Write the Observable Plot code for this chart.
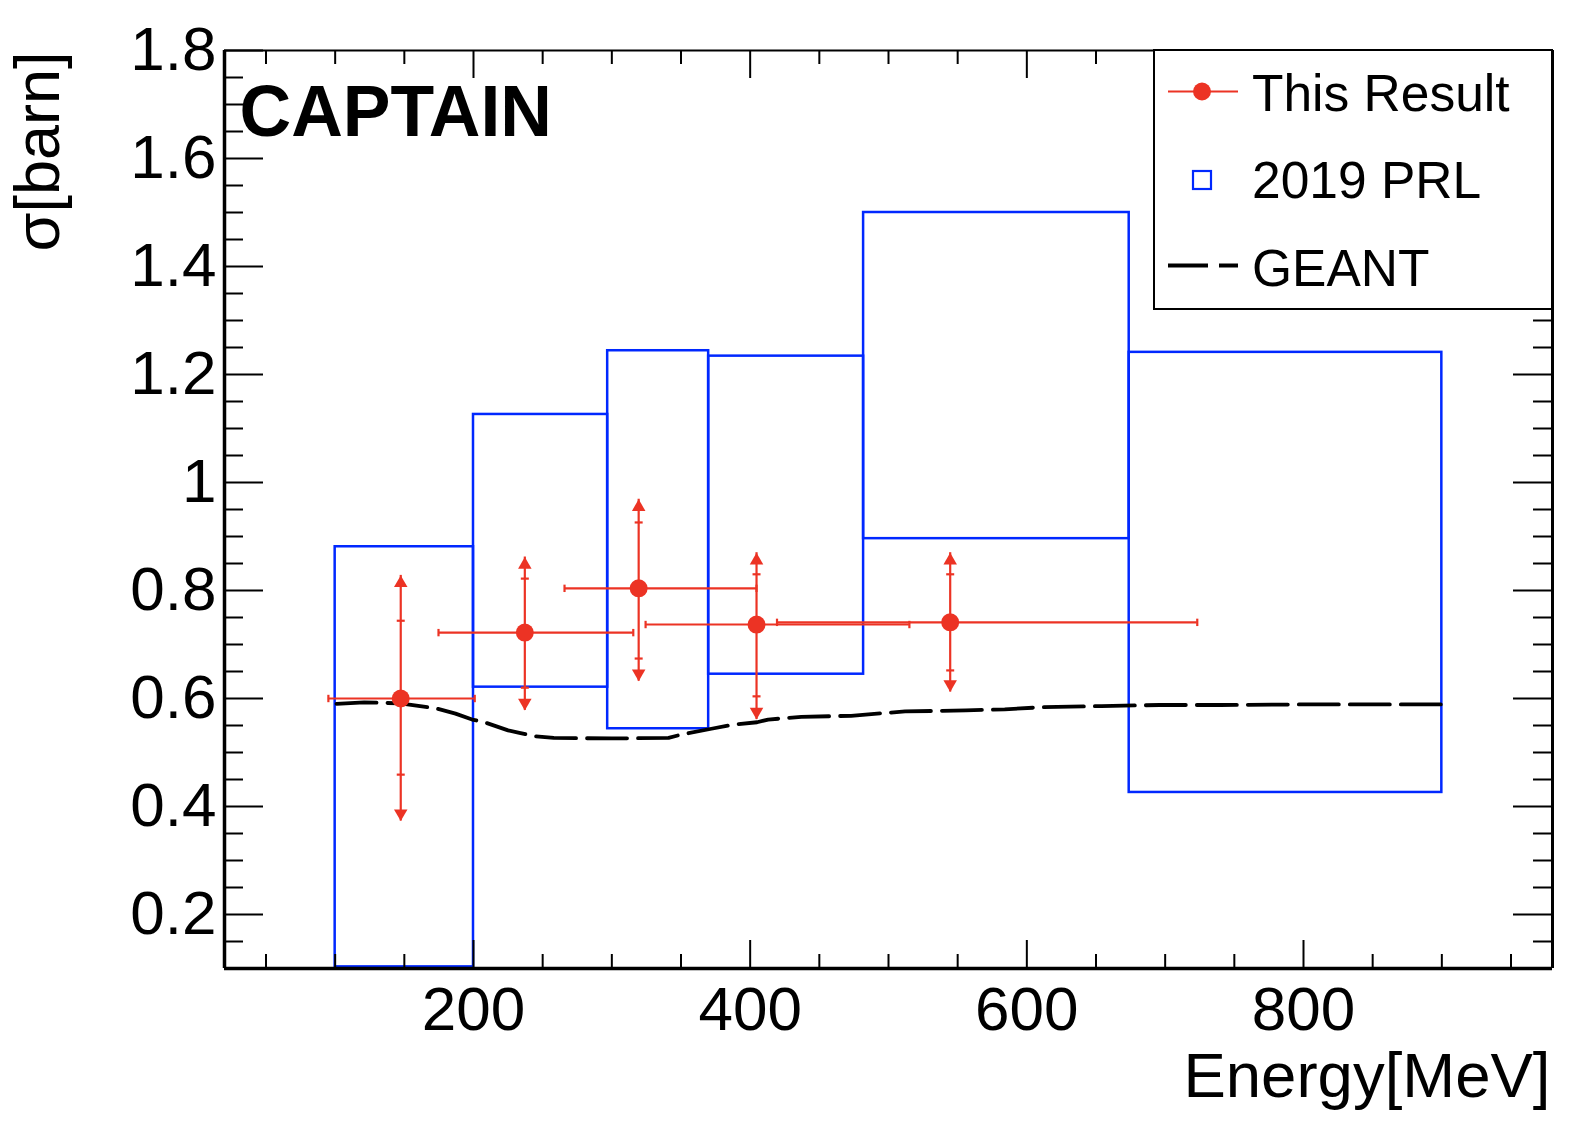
<!DOCTYPE html>
<html>
<head>
<meta charset="utf-8">
<script src="https://cdn.jsdelivr.net/npm/d3@7"></script>
<script src="https://cdn.jsdelivr.net/npm/@observablehq/plot@0.6"></script>
<style>
  html, body { margin: 0; padding: 0; background: #fff; }
  #chart { width: 1578px; height: 1132px; }
</style>
</head>
<body>
<div id="chart"></div>
<script>
// ---------------- data ----------------
// This Result (red points)
const resEnergy   = [147.4, 237.1, 319.4, 404.6, 544.6];
const resEnergyLo = [95.1, 174.7, 265.8, 324.4, 419.4];
const resEnergyHi = [200.9, 315.5, 404.6, 515.1, 723.2];
const resSigma    = [0.600, 0.722, 0.804, 0.737, 0.741];
const statLo      = [0.459, 0.620, 0.674, 0.604, 0.652];
const statHi      = [0.744, 0.822, 0.926, 0.830, 0.830];
const totalLo     = [0.373, 0.578, 0.632, 0.561, 0.612];
const totalHi     = [0.828, 0.862, 0.969, 0.870, 0.870];

// 2019 PRL (blue boxes)
const prlBinLo   = [100, 200, 297, 370, 482, 674];
const prlBinHi   = [200, 297, 370, 482, 674, 900];
const prlSigLo   = [0.103, 0.621, 0.544, 0.645, 0.896, 0.426];
const prlSigHi   = [0.881, 1.126, 1.244, 1.234, 1.500, 1.241];

// GEANT prediction (dashed)
const geantEnergy = [101, 121, 147, 164, 174, 187, 199, 208, 225, 234, 244, 258, 300, 341, 350, 372, 389, 405, 413, 437, 473, 512, 556, 584, 612, 654, 696, 740, 800, 860, 900];
const geantSigma  = [0.590, 0.593, 0.591, 0.585, 0.581, 0.572, 0.561, 0.556, 0.541, 0.536, 0.530, 0.527, 0.526, 0.527, 0.533, 0.544, 0.552, 0.556, 0.561, 0.566, 0.568, 0.576, 0.578, 0.580, 0.584, 0.586, 0.588, 0.588, 0.589, 0.589, 0.589];

// axes
const xDomain = [20, 980];
const yDomain = [0.1, 1.8];
const xMajor = [200, 400, 600, 800];
const xMinor = [50, 100, 150, 250, 300, 350, 450, 500, 550, 650, 700, 750, 850, 900, 950];
const yMajor = [0.2, 0.4, 0.6, 0.8, 1, 1.2, 1.4, 1.6, 1.8];
const yMinor = [0.15, 0.25, 0.3, 0.35, 0.45, 0.5, 0.55, 0.65, 0.7, 0.75, 0.85, 0.9, 0.95, 1.05, 1.1, 1.15, 1.25, 1.3, 1.35, 1.45, 1.5, 1.55, 1.65, 1.7, 1.75];
const xTitle = "Energy[MeV]";
const yTitle = "σ[barn]";
const experiment = "CAPTAIN";
const legendLabels = ["This Result", "2019 PRL", "GEANT"];

// ---------------- tables ----------------
const results = resEnergy.map((e, i) => ({
  e, eLo: resEnergyLo[i], eHi: resEnergyHi[i], s: resSigma[i],
  sLo: statLo[i], sHi: statHi[i], tLo: totalLo[i], tHi: totalHi[i]
}));
const prl = prlBinLo.map((lo, i) => ({x1: lo, x2: prlBinHi[i], y1: prlSigLo[i], y2: prlSigHi[i]}));
const geant = geantEnergy.map((e, i) => ({e, s: geantSigma[i]}));

// ---------------- styles ----------------
const RED = "#ec3324";
const BLUE = "#0028ff";
const FONT = "'Liberation Sans', Arial, Helvetica, sans-serif";
const W = 1578, H = 1132;
const mL = 224, mR = 26, mT = 50, mB = 164;
const innerW = W - mL - mR, innerH = H - mT - mB;

const capH = {draw(ctx, size) { const r = Math.sqrt(size / Math.PI); ctx.moveTo(-r, 0); ctx.lineTo(r, 0); }};
const capV = {draw(ctx, size) { const r = Math.sqrt(size / Math.PI); ctx.moveTo(0, -r); ctx.lineTo(0, r); }};
const arrowUp = {draw(ctx, size) { const r = Math.sqrt(size / Math.PI); ctx.moveTo(0, 0); ctx.lineTo(-1.5 * r, 2.6 * r); ctx.lineTo(1.5 * r, 2.6 * r); ctx.closePath(); }};
const arrowDown = {draw(ctx, size) { const r = Math.sqrt(size / Math.PI); ctx.moveTo(0, 0); ctx.lineTo(-1.5 * r, -2.6 * r); ctx.lineTo(1.5 * r, -2.6 * r); ctx.closePath(); }};

const chart = Plot.plot({
  width: W, height: H,
  marginLeft: mL, marginRight: mR, marginTop: mT, marginBottom: mB,
  x: {domain: xDomain, axis: null},
  y: {domain: yDomain, axis: null},
  style: {fontFamily: FONT, background: "white", color: "black"},
  marks: [
    // PRL boxes
    Plot.rect(prl, {x1: "x1", x2: "x2", y1: "y1", y2: "y2", fill: "none", stroke: BLUE, strokeWidth: 2.5}),
    // GEANT
    Plot.line(geant, {x: "e", y: "s", stroke: "black", strokeWidth: 3.8, strokeDasharray: "40,11"}),
    // This Result
    Plot.ruleY(results, {y: "s", x1: "eLo", x2: "eHi", stroke: RED, strokeWidth: 2.2}),
    Plot.dot(results, {x: "eLo", y: "s", symbol: capV, r: 3.7, stroke: RED, fill: "none", strokeWidth: 2.2}),
    Plot.dot(results, {x: "eHi", y: "s", symbol: capV, r: 3.7, stroke: RED, fill: "none", strokeWidth: 2.2}),
    Plot.ruleX(results, {x: "e", y1: "tLo", y2: "tHi", stroke: RED, strokeWidth: 2.2}),
    Plot.dot(results, {x: "e", y: "sLo", symbol: capH, r: 4, stroke: RED, fill: "none", strokeWidth: 2.2}),
    Plot.dot(results, {x: "e", y: "sHi", symbol: capH, r: 4, stroke: RED, fill: "none", strokeWidth: 2.2}),
    Plot.dot(results, {x: "e", y: "tHi", symbol: arrowUp, r: 4.5, fill: RED, stroke: "none"}),
    Plot.dot(results, {x: "e", y: "tLo", symbol: arrowDown, r: 4.5, fill: RED, stroke: "none"}),
    Plot.dot(results, {x: "e", y: "s", r: 9, fill: RED, stroke: "none"}),
    // inward ticks
    Plot.tickY(yMajor, {y: d => d, insetRight: innerW - 39, stroke: "black", strokeWidth: 2}),
    Plot.tickY(yMinor, {y: d => d, insetRight: innerW - 19, stroke: "black", strokeWidth: 2}),
    Plot.tickY(yMajor, {y: d => d, insetLeft: innerW - 39, stroke: "black", strokeWidth: 2}),
    Plot.tickY(yMinor, {y: d => d, insetLeft: innerW - 19, stroke: "black", strokeWidth: 2}),
    Plot.tickX(xMajor, {x: d => d, insetTop: innerH - 28, stroke: "black", strokeWidth: 2}),
    Plot.tickX(xMinor, {x: d => d, insetTop: innerH - 14, stroke: "black", strokeWidth: 2}),
    Plot.tickX(xMajor, {x: d => d, insetBottom: innerH - 28, stroke: "black", strokeWidth: 2}),
    Plot.tickX(xMinor, {x: d => d, insetBottom: innerH - 14, stroke: "black", strokeWidth: 2}),
    // frame
    Plot.ruleY([yDomain[1]], {stroke: "black", strokeWidth: 2}),
    Plot.ruleX([xDomain[1]], {stroke: "black", strokeWidth: 3}),
    Plot.ruleX([xDomain[0]], {stroke: "black", strokeWidth: 3.5}),
    Plot.ruleY([yDomain[0]], {stroke: "black", strokeWidth: 3.5}),
    // tick labels
    Plot.axisX({ticks: xMajor, anchor: "bottom", tickSize: 0, tickPadding: 17, fontSize: 62, label: null, tickFormat: d => String(d)}),
    Plot.axisY({ticks: yMajor, anchor: "left", tickSize: 0, tickPadding: 8, fontSize: 62, label: null, tickFormat: d => String(d)}),
    // titles
    Plot.text([yTitle], {text: d => d, frameAnchor: "top-left", rotate: -90, textAnchor: "end", lineAnchor: "bottom", dx: -166, dy: 1, fontSize: 63, fill: "black"}),
    Plot.text([xTitle], {text: d => d, frameAnchor: "bottom-right", textAnchor: "end", lineAnchor: "bottom", dx: -2, dy: 128, fontSize: 63.5, fill: "black"}),
    Plot.text([experiment], {text: d => d, frameAnchor: "top-left", textAnchor: "start", lineAnchor: "top", dx: 15, dy: 35, fontSize: 71.5, fontWeight: "bold", fill: "black"})
  ]
});
document.getElementById("chart").append(chart);

// ---------------- legend (ROOT TLegend style) ----------------
const svg = d3.select(chart);
const lg = svg.append("g").attr("font-family", FONT).attr("text-anchor", "start");
lg.append("rect").attr("x", 1154).attr("y", 50).attr("width", W - mR - 1154).attr("height", 309 - 50)
  .attr("fill", "white").attr("stroke", "black").attr("stroke-width", 2);
const rowBase = [111, 198, 285.5];
lg.selectAll("text.lab").data(legendLabels).join("text")
  .attr("class", "lab")
  .attr("x", 1252).attr("y", (d, i) => rowBase[i]).attr("font-size", 51.5)
  .attr("text-anchor", "start").attr("fill", "black").text(d => d);
// This Result symbol
lg.append("line").attr("x1", 1168).attr("x2", 1238).attr("y1", rowBase[0] - 19.5).attr("y2", rowBase[0] - 19.5)
  .attr("stroke", RED).attr("stroke-width", 2.2);
lg.append("circle").attr("cx", 1202).attr("cy", rowBase[0] - 19.5).attr("r", 9).attr("fill", RED);
// 2019 PRL symbol
lg.append("rect").attr("x", 1193).attr("y", rowBase[1] - 27).attr("width", 18).attr("height", 18)
  .attr("fill", "none").attr("stroke", BLUE).attr("stroke-width", 2.2);
// GEANT symbol
lg.append("line").attr("x1", 1168).attr("x2", 1238).attr("y1", rowBase[2] - 20).attr("y2", rowBase[2] - 20)
  .attr("stroke", "black").attr("stroke-width", 3.8).attr("stroke-dasharray", "40,11");
</script>
</body>
</html>
